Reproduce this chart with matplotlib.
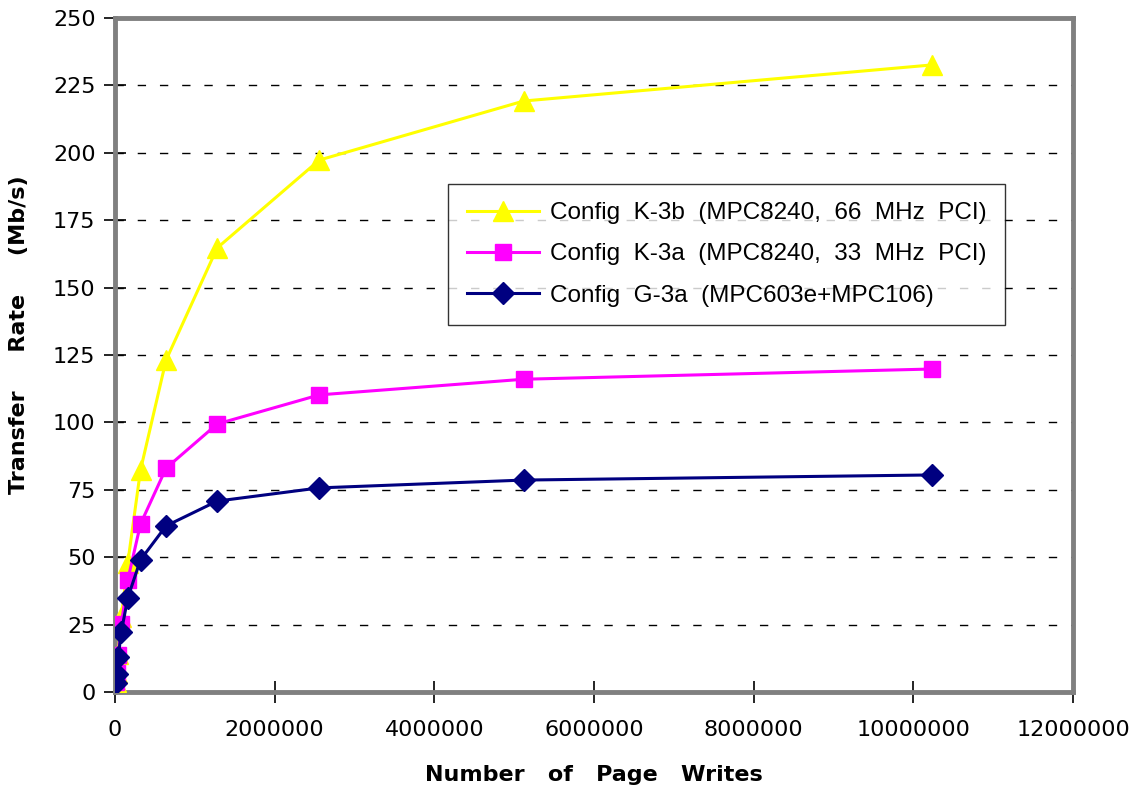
import numpy as np
import matplotlib.pyplot as plt

plt.rcParams['font.family'] = ['Liberation Sans', 'DejaVu Sans']

# page writes (x) and transfer rate in Mb/s (y)
writes = [10000, 20000, 40000, 80000, 160000, 320000, 640000,
          1280000, 2560000, 5120000, 10240000]
k3b = [3.6, 7.2, 14.0, 27.8, 47.8, 82.3, 123.1, 164.7, 197.3, 219.2, 232.6]
k3a = [3.7, 7.0, 13.7, 25.2, 41.5, 62.3, 83.0, 99.4, 110.2, 116.0, 119.8]
g3a = [3.4, 6.7, 12.9, 22.3, 34.9, 49.0, 61.6, 70.8, 75.7, 78.6, 80.5]

labels = ["Config  K-3b  (MPC8240,  66  MHz  PCI)",
          "Config  K-3a  (MPC8240,  33  MHz  PCI)",
          "Config  G-3a  (MPC603e+MPC106)"]

fig = plt.figure(figsize=(11.36, 7.92), dpi=100)
ax = fig.add_axes([0.1012, 0.1263, 0.8433, 0.851])

ax.plot(writes, k3b, color='#ffff00', lw=2.2, marker='^', ms=15, label=labels[0], zorder=3)
ax.plot(writes, k3a, color='#ff00ff', lw=2.2, marker='s', ms=12, label=labels[1], zorder=4)
ax.plot(writes, g3a, color='#000080', lw=2.2, marker='D', ms=11, label=labels[2], zorder=5)

ax.set_xlim(0, 12000000)
ax.set_ylim(0, 250)
ax.set_xticks(np.arange(0, 12000001, 2000000))
ax.set_yticks(np.arange(0, 251, 25))
ax.ticklabel_format(style='plain', axis='x')
ax.yaxis.grid(True, color='black', ls=(0, (6, 10)), lw=1)
ax.set_axisbelow(True)

for s in ax.spines.values():
    s.set_color('#808080')
    s.set_linewidth(3.5)
ax.axvline(0, color='black', lw=1.2, zorder=2.5)
ax.axhline(0, color='black', lw=1.2, zorder=2.5)

ax.tick_params(direction='inout', length=16, width=1.2, color='black')
ax.tick_params(axis='y', pad=6)
ax.tick_params(axis='x', pad=12)
for t in ax.get_xticklabels() + ax.get_yticklabels():
    t.set_family('DejaVu Sans')
    t.set_fontsize(16)

ax.set_xlabel("Number   of   Page   Writes", family='DejaVu Sans', fontsize=16,
              fontweight='bold', labelpad=18)
ax.set_ylabel("Transfer     Rate     (Mb/s)", family='DejaVu Sans', fontsize=16,
              fontweight='bold')
ax.yaxis.set_label_coords(-0.09, 0.53)

leg = ax.legend(loc='upper left', bbox_to_anchor=(0.348, 0.754), fontsize=17.5,
                frameon=True, fancybox=False, edgecolor='black', borderpad=0.75,
                labelspacing=0.8, handlelength=3.0, handletextpad=0.45,
                borderaxespad=0)
leg.get_frame().set_linewidth(1)

fig.savefig('out.png', dpi=100)
